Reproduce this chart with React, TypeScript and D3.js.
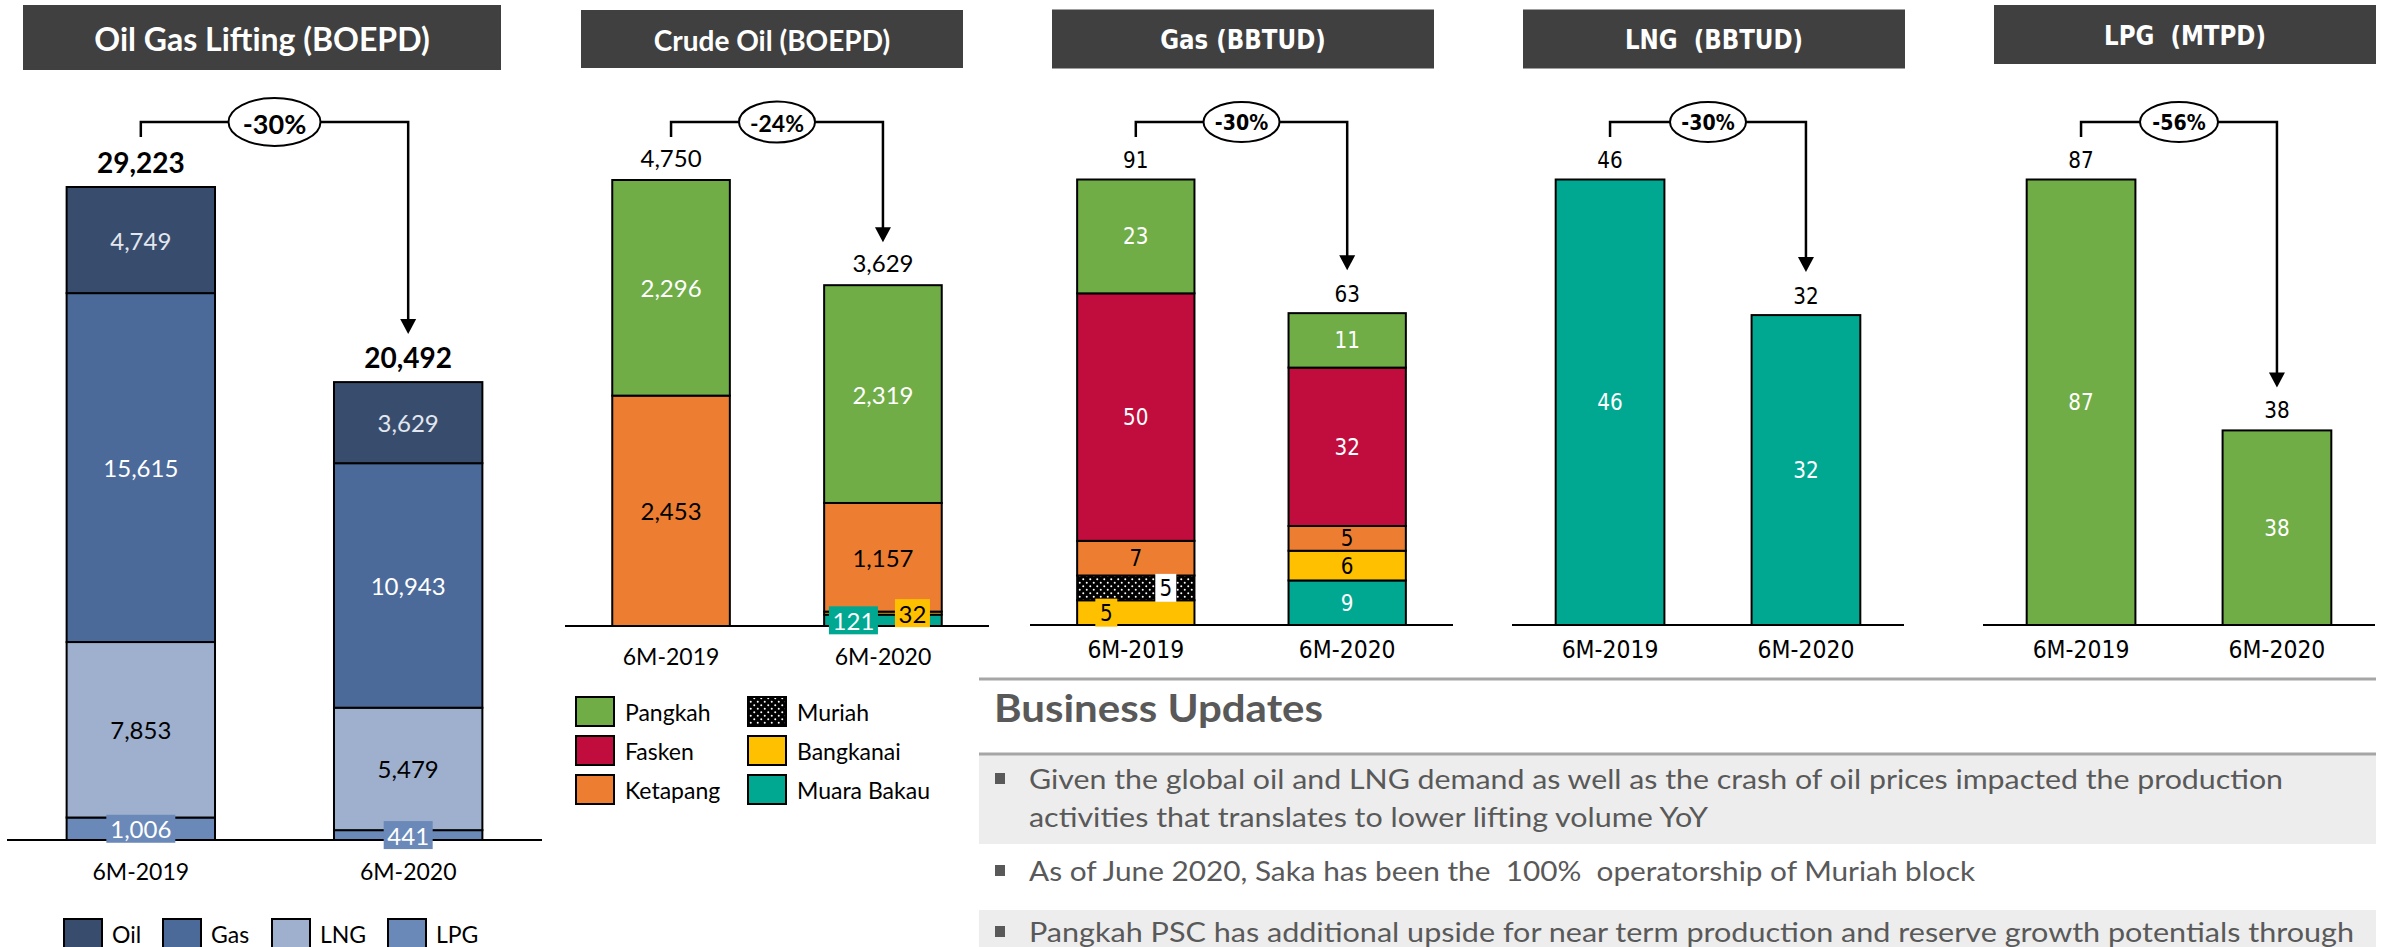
import React from "react";
import * as d3 from "d3";

const periods = ["6M-2019", "6M-2020"];

// Oil Gas Lifting (BOEPD)
const liftingOil = [4749, 3629];
const liftingGas = [15615, 10943];
const liftingLng = [7853, 5479];
const liftingLpg = [1006, 441];
const liftingTotal = [29223, 20492];

// Crude Oil (BOEPD)
const crudePangkah = [2296, 2319];
const crudeKetapang = [2453, 1157];
const crudeBangkanai = [0, 32];
const crudeMuaraBakau = [0, 121];
const crudeTotal = [4750, 3629];

// Gas (BBTUD)
const gasPangkah = [23, 11];
const gasFasken = [50, 32];
const gasKetapang = [7, 5];
const gasMuriah = [5, 0];
const gasBangkanai = [5, 6];
const gasMuaraBakau = [0, 9];
const gasTotal = [91, 63];

// LNG (BBTUD), LPG (MTPD)
const lngValues = [46, 32];
const lpgValues = [87, 38];

const changes = ["-30%", "-24%", "-30%", "-30%", "-56%"];

const liftingLegend = ["Oil", "Gas", "LNG", "LPG"];
const blockLegend = [
  ["Pangkah", "Fasken", "Ketapang"],
  ["Muriah", "Bangkanai", "Muara Bakau"],
];

const bullets = [
  ["Given the global oil and LNG demand as well as the crash of oil prices impacted the production", "activities that translates to lower lifting volume YoY"],
  ["As of June 2020, Saka has been the  100%  operatorship of Muriah block"],
  ["Pangkah PSC has additional upside for near term production and reserve growth potentials through"],
];

const C = {
  oil: "#384D6E",
  gas: "#4B6A99",
  lng: "#9EB0CE",
  lpg: "#6A89B9",
  pangkah: "#70AD47",
  fasken: "#C00D3D",
  ketapang: "#ED7D31",
  bangkanai: "#FFC000",
  muara: "#00A891",
  muriah: "url(#muriah)",
  title: "#404040",
  grey: "#595959",
};

const blockFill: Record<string, string> = {
  Pangkah: C.pangkah, Fasken: C.fasken, Ketapang: C.ketapang,
  Muriah: C.muriah, Bangkanai: C.bangkanai, "Muara Bakau": C.muara,
};

const FONT = "Lato, 'Open Sans', sans-serif";
const VFONT = "'DejaVu Sans', Verdana, sans-serif";

type Series = { key: string; values: number[]; fill: string; text: string };
type Box = { key: string; index: number; dx: number; w: number; fill: string; text: string };

const panels = [
  {
    title: "Oil Gas Lifting (BOEPD)", titleBox: [23, 501, 5, 70], axis: [7, 542], base: 840, top: 187,
    series: [
      { key: "LPG", values: liftingLpg, fill: C.lpg, text: "#fff" },
      { key: "LNG", values: liftingLng, fill: C.lng, text: "#000" },
      { key: "Gas", values: liftingGas, fill: C.gas, text: "#fff" },
      { key: "Oil", values: liftingOil, fill: C.oil, text: "#E3E7EF" },
    ] as Series[],
    boxes: [
      { key: "LPG", index: 0, dx: 0, w: 69, fill: C.lpg, text: "#fff" },
      { key: "LPG", index: 1, dx: 0, w: 49, fill: C.lpg, text: "#fff" },
    ] as Box[],
    totals: liftingTotal, change: changes[0], font: FONT, stretch: 1,
    titleSize: 32, totalSize: 28, totalBold: true, totalGap: 14, labelSize: 24, tickSize: 23, tickY: 880,
    changeSize: 27, rx: 46, ry: 24, arrowGap: 48,
  },
  {
    title: "Crude Oil (BOEPD)", titleBox: [581, 963, 10, 68], axis: [565, 989], base: 626, top: 180,
    series: [
      { key: "Muara Bakau", values: crudeMuaraBakau, fill: C.muara, text: "#fff" },
      { key: "Bangkanai", values: crudeBangkanai, fill: C.bangkanai, text: "#000" },
      { key: "Ketapang", values: crudeKetapang, fill: C.ketapang, text: "#000" },
      { key: "Pangkah", values: crudePangkah, fill: C.pangkah, text: "#fff" },
    ] as Series[],
    boxes: [
      { key: "Muara Bakau", index: 1, dx: -29.5, w: 49, fill: C.muara, text: "#fff" },
      { key: "Bangkanai", index: 1, dx: 29.5, w: 35, fill: C.bangkanai, text: "#000" },
    ] as Box[],
    totals: crudeTotal, change: changes[1], font: FONT, stretch: 1,
    titleSize: 28, totalSize: 24, totalBold: false, totalGap: 13, labelSize: 24, tickSize: 23, tickY: 665,
    changeSize: 23, rx: 38, ry: 20.5, arrowGap: 43,
  },
  {
    title: "Gas (BBTUD)", titleBox: [1052, 1434, 9.5, 68.5], axis: [1030, 1453], base: 625, top: 179.5,
    series: [
      { key: "Muara Bakau", values: gasMuaraBakau, fill: C.muara, text: "#fff" },
      { key: "Bangkanai", values: gasBangkanai, fill: C.bangkanai, text: "#000" },
      { key: "Muriah", values: gasMuriah, fill: C.muriah, text: "#000" },
      { key: "Ketapang", values: gasKetapang, fill: C.ketapang, text: "#000" },
      { key: "Fasken", values: gasFasken, fill: C.fasken, text: "#fff" },
      { key: "Pangkah", values: gasPangkah, fill: C.pangkah, text: "#fff" },
    ] as Series[],
    boxes: [
      { key: "Muriah", index: 0, dx: 30, w: 21, fill: "#fff", text: "#000" },
      { key: "Bangkanai", index: 0, dx: -29.5, w: 22, fill: C.bangkanai, text: "#000" },
    ] as Box[],
    totals: gasTotal, change: changes[2], font: VFONT, stretch: 1.15,
    titleSize: 23, totalSize: 20, totalBold: false, totalGap: 11.5, labelSize: 20, tickSize: 22, tickY: 658,
    changeSize: 19, rx: 38, ry: 20, arrowGap: 43,
  },
  {
    title: "LNG  (BBTUD)", titleBox: [1523, 1905, 9.5, 68.5], axis: [1512, 1904], base: 625, top: 179.5,
    series: [{ key: "LNG", values: lngValues, fill: C.muara, text: "#fff" }] as Series[],
    boxes: [] as Box[],
    totals: lngValues, change: changes[3], font: VFONT, stretch: 1.15,
    titleSize: 23, totalSize: 20, totalBold: false, totalGap: 11.5, labelSize: 20, tickSize: 22, tickY: 658,
    changeSize: 19, rx: 38, ry: 20, arrowGap: 43,
  },
  {
    title: "LPG  (MTPD)", titleBox: [1994, 2376, 5, 64], axis: [1983, 2375], base: 625, top: 179.5,
    series: [{ key: "LPG", values: lpgValues, fill: C.pangkah, text: "#fff" }] as Series[],
    boxes: [] as Box[],
    totals: lpgValues, change: changes[4], font: VFONT, stretch: 1.15,
    titleSize: 23, totalSize: 20, totalBold: false, totalGap: 12, labelSize: 20, tickSize: 22, tickY: 658,
    changeSize: 19, rx: 39, ry: 20, arrowGap: 43,
  },
];

const fmt = d3.format(",.0f");

// text that may be stretched vertically (the three right panels look squeezed)
const T = ({ x, y, s = 1, children, ...rest }: any) => (
  <text transform={`translate(${x},${y}) scale(1,${s})`} style={{ whiteSpace: "pre" }} {...rest}>
    {children}
  </text>
);

function Panel({ cfg }: { cfg: (typeof panels)[number] }) {
  const x = d3.scaleBand().domain(periods).range(cfg.axis as [number, number]).paddingInner(0.445).paddingOuter(0.223);
  const keys = cfg.series.map((s) => s.key);
  const rows = periods.map((p, i) => {
    const r: any = { period: p };
    cfg.series.forEach((s) => (r[s.key] = s.values[i]));
    return r;
  });
  const stacked = d3.stack<any>().keys(keys)(rows);
  const sums = rows.map((_, i) => d3.sum(cfg.series, (s) => s.values[i]));
  const y = d3.scaleLinear().domain([0, d3.max(sums) as number]).range([cfg.base, cfg.top]);
  const bw = x.bandwidth();
  const cx = (p: string) => (x(p) as number) + bw / 2;
  const [tx0, tx1, ty0, ty1] = cfg.titleBox;
  const s = cfg.stretch;

  const xl = cx(periods[0]);
  const xr = cx(periods[1]);
  const tip = y(sums[1]) - cfg.arrowGap;
  const bracketY = 122;

  return (
    <g fontFamily={cfg.font}>
      <rect x={tx0} y={ty0} width={tx1 - tx0} height={ty1 - ty0} fill={C.title} />
      <T x={(tx0 + tx1) / 2} y={(ty0 + ty1) / 2 + 1} s={s} fill="#fff" fontWeight="bold" fontSize={cfg.titleSize}
        textAnchor="middle" dominantBaseline="central">{cfg.title}</T>

      {stacked.map((layer, li) =>
        layer.map((d, i) => {
          const v = d[1] - d[0];
          if (!v) return null;
          const ser = cfg.series[li];
          return (
            <rect key={`${layer.key}-${i}`} x={x(periods[i])} y={y(d[1])} width={bw} height={y(d[0]) - y(d[1])}
              fill={ser.fill} stroke="#000" strokeWidth={2} />
          );
        })
      )}

      <line x1={cfg.axis[0]} x2={cfg.axis[1]} y1={cfg.base} y2={cfg.base} stroke="#000" strokeWidth={2} />

      {stacked.map((layer, li) =>
        layer.map((d, i) => {
          const v = d[1] - d[0];
          if (!v) return null;
          const ser = cfg.series[li];
          const ym = (y(d[0]) + y(d[1])) / 2;
          const box = cfg.boxes.find((b) => b.key === layer.key && b.index === i);
          if (box) {
            const bx = cx(periods[i]) + box.dx;
            return (
              <g key={`l-${layer.key}-${i}`}>
                <rect x={bx - box.w / 2} y={ym - 14} width={box.w} height={28} fill={box.fill} />
                <T x={bx} y={ym} s={s} fill={box.text} fontSize={cfg.labelSize} textAnchor="middle"
                  dominantBaseline="central">{fmt(v)}</T>
              </g>
            );
          }
          return (
            <T key={`l-${layer.key}-${i}`} x={cx(periods[i])} y={ym} s={s} fill={ser.text} fontSize={cfg.labelSize}
              textAnchor="middle" dominantBaseline="central">{fmt(v)}</T>
          );
        })
      )}

      {periods.map((p, i) => (
        <T key={`t-${p}`} x={cx(p)} y={y(sums[i]) - cfg.totalGap} s={s} fontSize={cfg.totalSize}
          fontWeight={cfg.totalBold ? "bold" : "normal"} textAnchor="middle">{fmt(cfg.totals[i])}</T>
      ))}

      {periods.map((p) => (
        <T key={`x-${p}`} x={cx(p)} y={cfg.tickY} s={s} fontSize={cfg.tickSize} textAnchor="middle">{p}</T>
      ))}

      <path d={`M${xl},137V${bracketY}H${xr}V${tip - 14}`} fill="none" stroke="#000" strokeWidth={2.5} />
      <path d={`M${xr - 8},${tip - 15}L${xr + 8},${tip - 15}L${xr},${tip}Z`} fill="#000" />
      <ellipse cx={(xl + xr) / 2} cy={bracketY} rx={cfg.rx} ry={cfg.ry} fill="#fff" stroke="#000" strokeWidth={2} />
      <T x={(xl + xr) / 2} y={bracketY + 1} s={s} fontSize={cfg.changeSize} fontWeight="bold" textAnchor="middle"
        dominantBaseline="central">{cfg.change}</T>
    </g>
  );
}

export default function App() {
  const liftColors = [C.oil, C.gas, C.lng, C.lpg];
  const liftLegendX = [64, 163, 272, 388];
  const bulletTop = [754, 844, 910];
  const bulletBottom = [844, 910, 947];
  const bulletBase = [[789, 827], [881], [942]];
  const bulletWidth = [[1254, 679], [946], [1325]];

  return (
    <div style={{ position: "absolute", left: 0, top: 0 }}>
      <svg width={2390} height={947} style={{ display: "block", background: "#fff" }}>
        <defs>
          <pattern id="muriah" width={7} height={7} patternUnits="userSpaceOnUse">
            <rect width={7} height={7} fill="#000" />
            <circle cx={1.75} cy={1.75} r={1} fill="#fff" />
            <circle cx={5.25} cy={5.25} r={1} fill="#fff" />
          </pattern>
        </defs>

        {panels.map((p) => (
          <Panel key={p.title} cfg={p} />
        ))}

        {/* lifting legend */}
        <g fontFamily={FONT} fontSize={23}>
          {liftingLegend.map((k, i) => (
            <g key={k}>
              <rect x={liftLegendX[i]} y={919} width={38} height={29} fill={liftColors[i]} stroke="#000" strokeWidth={2} />
              <text x={liftLegendX[i] + 48} y={934} dominantBaseline="central">{k}</text>
            </g>
          ))}
        </g>

        {/* block legend */}
        <g fontFamily={FONT} fontSize={23}>
          {blockLegend.map((col, ci) =>
            col.map((k, ri) => (
              <g key={k}>
                <rect x={576 + ci * 172} y={697 + ri * 39} width={38} height={29} fill={blockFill[k]} stroke="#000" strokeWidth={2} />
                <text x={625 + ci * 172} y={712 + ri * 39} dominantBaseline="central">{k}</text>
              </g>
            ))
          )}
        </g>

        {/* business updates */}
        <g fontFamily={FONT} fill={C.grey}>
          {bullets.map((b, i) => (
            <rect key={`bg-${i}`} x={979} y={bulletTop[i]} width={1397} height={bulletBottom[i] - bulletTop[i]}
              fill={i % 2 === 0 ? "#EDEDED" : "#fff"} />
          ))}
          <line x1={979} x2={2376} y1={679} y2={679} stroke="#A6A6A6" strokeWidth={3} />
          <line x1={979} x2={2376} y1={754} y2={754} stroke="#A6A6A6" strokeWidth={3} />
          <text x={994} y={722} fontSize={38} fontWeight="bold" textLength={329} lengthAdjust="spacingAndGlyphs">
            Business Updates
          </text>
          {bullets.map((b, i) => (
            <g key={`b-${i}`}>
              <rect x={995} y={bulletBase[i][0] - 16} width={10} height={11} fill={C.grey} />
              {b.map((line, li) => (
                <text key={li} x={1029} y={bulletBase[i][li]} fontSize={27} style={{ whiteSpace: "pre" }}
                  textLength={bulletWidth[i][li]} lengthAdjust="spacingAndGlyphs">{line}</text>
              ))}
            </g>
          ))}
        </g>
      </svg>
    </div>
  );
}
